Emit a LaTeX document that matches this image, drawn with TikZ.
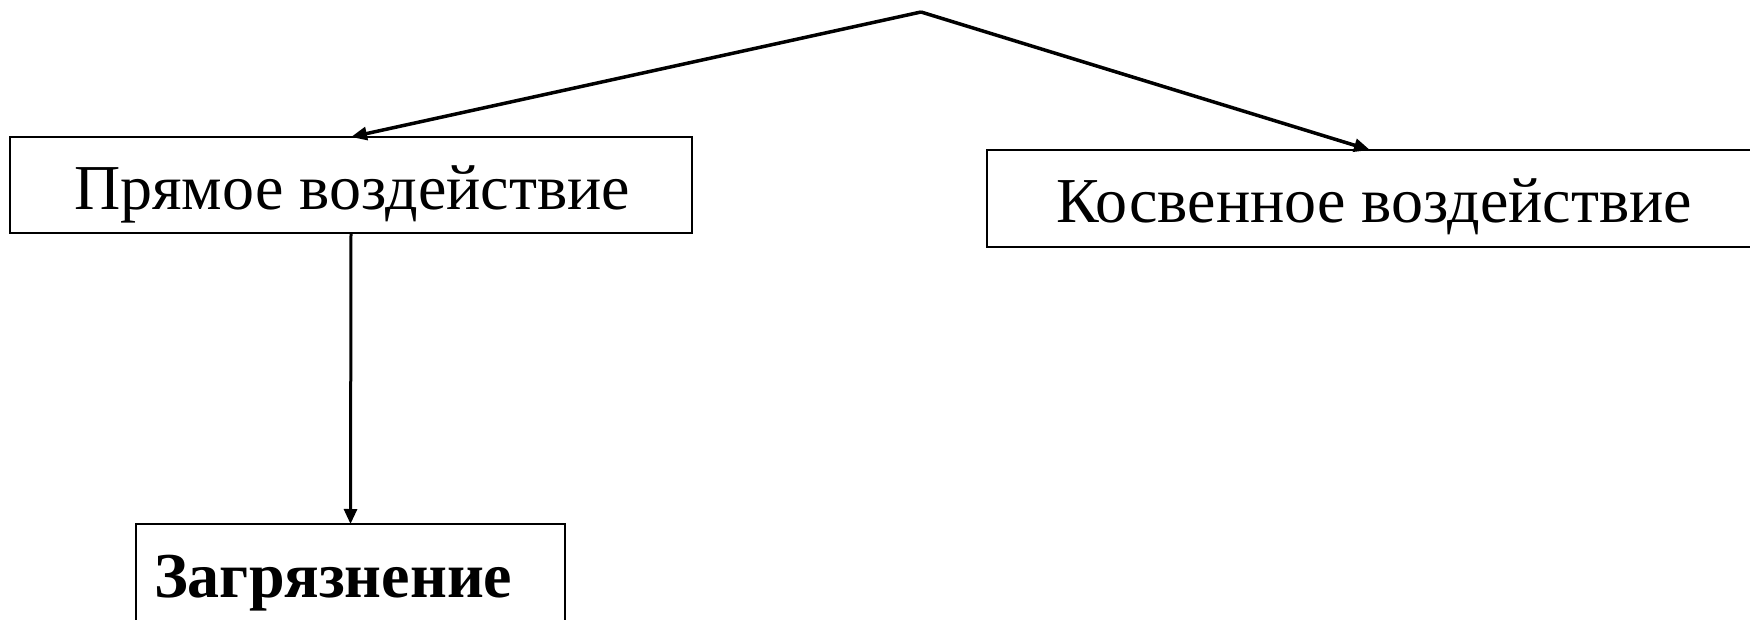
\documentclass[tikz,border=0pt]{standalone}
\usepackage{fontspec}
\setmainfont{Liberation Serif}
\usetikzlibrary{arrows.meta,calc}
\begin{document}
\begin{tikzpicture}[x=1pt,y=-1pt,
  box/.style={draw=black,line width=2pt,rectangle,inner sep=0pt,outer sep=0pt,anchor=north west},
  txt/.style={inner sep=0pt,font=\fontsize{64}{70}\selectfont,anchor=base west},
  thick arrow/.style={line width=3.5pt,-{Triangle[length=16pt,width=13pt]}},
  thin arrow/.style={line width=3pt,-{Triangle[length=15pt,width=13pt]}}]
\useasboundingbox (0,0) rectangle (1750,620);
\coordinate (top) at (921,12);
\node[box,minimum width=682pt,minimum height=96pt] (b1) at (10,137) {};
\node[txt] (t1) at (74,210) {Прямое воздействие};
\node[box,minimum width=800pt,minimum height=97pt] (b2) at (987,150) {};
\node[txt] (t2) at (1056,223) {Косвенное воздействие};
\node[box,minimum width=429pt,minimum height=140pt] (b3) at (136,524) {};
\node[txt,font=\fontsize{64}{70}\selectfont\bfseries] (t3) at (154,597) {Загрязнение};
\coordinate (b2in) at ($(b2.north west)+(383,0)$);
\draw[thick arrow,line join=miter] (top) -- (b1.north);
\draw[thick arrow] (top) -- (b2in);
\draw[thin arrow] (b1.south) -- (b3.north);
\end{tikzpicture}
\end{document}
